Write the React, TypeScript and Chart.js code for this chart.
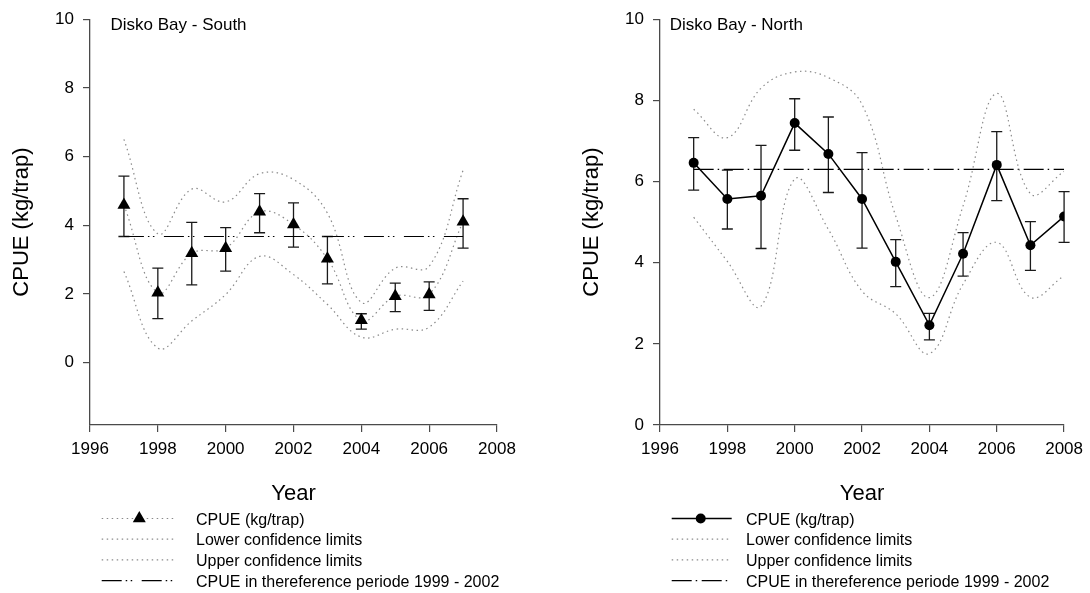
import React, { useEffect, useRef } from "react";
import { Chart, registerables } from "chart.js";

Chart.register(...registerables);

const FONT = "'Liberation Sans', Arial, Helvetica, sans-serif";
const AXIS = "#4a4a4a";
const CL_GREY = "#8a8a8a";

// Axis ticks
const yearTicks = [1996, 1998, 2000, 2002, 2004, 2006, 2008];
const cpueTicks = [0, 2, 4, 6, 8, 10];

// Disko Bay - South
const southYears = [1997, 1998, 1999, 2000, 2001, 2002, 2003, 2004, 2005, 2006, 2007];
const southCpue = [4.59, 2.03, 3.18, 3.33, 4.39, 4.02, 3.02, 1.23, 1.93, 1.98, 4.1];
const southErrHigh = [5.43, 2.75, 4.08, 3.93, 4.92, 4.65, 3.67, 1.42, 2.31, 2.35, 4.77];
const southErrLow = [3.67, 1.28, 2.26, 2.66, 3.78, 3.36, 2.29, 0.97, 1.48, 1.52, 3.33];
const southUpperCL = [6.5, 3.75, 5.05, 4.68, 5.5, 5.33, 4.35, 1.75, 2.75, 2.8, 5.6];
const southLowerCL = [2.65, 0.42, 1.21, 1.98, 3.09, 2.56, 1.69, 0.74, 0.97, 1.03, 2.37];
const southRef = 3.67;

// Disko Bay - North
const northYears = [1997, 1998, 1999, 2000, 2001, 2002, 2003, 2004, 2005, 2006, 2007, 2008];
const northCpue = [6.46, 5.57, 5.65, 7.44, 6.68, 5.57, 4.02, 2.46, 4.22, 6.41, 4.43, 5.14];
const northErrHigh = [7.08, 6.28, 6.89, 8.04, 7.59, 6.71, 4.57, 2.75, 4.74, 7.23, 5.01, 5.75];
const northErrLow = [5.79, 4.83, 4.35, 6.77, 5.73, 4.36, 3.41, 2.1, 3.67, 5.53, 3.81, 4.5];
const northUpperCL = [7.78, 7.08, 8.3, 8.7, 8.56, 7.9, 5.15, 3.14, 5.4, 8.17, 5.7, 6.25];
const northLowerCL = [5.12, 4.03, 2.93, 6.06, 4.82, 3.3, 2.74, 1.76, 3.47, 4.5, 3.15, 3.68];
const northRef = 6.3;

const legendLabels = [
  "CPUE (kg/trap)",
  "Lower confidence limits",
  "Upper confidence limits",
  "CPUE in thereference periode 1999 - 2002",
];

const DOTTED = [1.5, 3.5];
const SOUTH_REF_DASH = [20, 4, 1.5, 3.5, 1.5, 9.5];
const NORTH_REF_DASH = [20, 4, 1.5, 4.5];

type PanelSpec = {
  title: string;
  titleX: number;
  years: number[];
  cpue: number[];
  errHigh: number[];
  errLow: number[];
  upper: number[];
  lower: number[];
  ref: number;
  refFrom: number;
  refTo: number;
  refDash: number[];
  yMin: number;
  marker: "triangle" | "circle";
  markerRadius: number;
  cpueSolid: boolean;
  yAxisWidth: number;
  padRight: number;
  legendX0: number;
  legendX1: number;
  legendMarkerX: number;
  legendTextX: number;
};

const pts = (xs: number[], ys: number[]) => xs.map((x, i) => ({ x, y: ys[i] }));

function drawMarker(ctx: CanvasRenderingContext2D, kind: string, x: number, y: number, r: number) {
  ctx.save();
  ctx.fillStyle = "#000";
  ctx.beginPath();
  if (kind === "circle") {
    ctx.arc(x, y, r, 0, Math.PI * 2);
  } else {
    const h = r * 1.5;
    const w = r * Math.sqrt(3);
    ctx.moveTo(x, y - r);
    ctx.lineTo(x + w / 2, y - r + h);
    ctx.lineTo(x - w / 2, y - r + h);
    ctx.closePath();
  }
  ctx.fill();
  ctx.restore();
}

function makeErrorBars(p: PanelSpec) {
  return {
    id: "errorBars",
    beforeDatasetsDraw(chart: any) {
      const { ctx, scales } = chart;
      const xs = scales.x;
      const ys = scales.y;
      const cap = 5.5;
      ctx.save();
      ctx.strokeStyle = "#1a1a1a";
      ctx.lineWidth = 1.3;
      p.years.forEach((yr, i) => {
        const px = xs.getPixelForValue(yr);
        const top = ys.getPixelForValue(p.errHigh[i]);
        const bot = ys.getPixelForValue(p.errLow[i]);
        ctx.beginPath();
        ctx.moveTo(px, top);
        ctx.lineTo(px, bot);
        ctx.moveTo(px - cap, top);
        ctx.lineTo(px + cap, top);
        ctx.moveTo(px - cap, bot);
        ctx.lineTo(px + cap, bot);
        ctx.stroke();
      });
      ctx.restore();
    },
  };
}

function makeDecor(p: PanelSpec) {
  return {
    id: "decor",
    afterDraw(chart: any) {
      const { ctx, chartArea } = chart;
      ctx.save();
      ctx.fillStyle = "#000";

      // panel title
      ctx.font = `17px ${FONT}`;
      ctx.textAlign = "left";
      ctx.textBaseline = "alphabetic";
      ctx.fillText(p.title, p.titleX, 29.5);

      // y axis title
      ctx.save();
      ctx.translate(chartArea.left - 62.5, (chartArea.top + chartArea.bottom) / 2);
      ctx.rotate(-Math.PI / 2);
      ctx.font = `22px ${FONT}`;
      ctx.textAlign = "center";
      ctx.fillText("CPUE (kg/trap)", 0, 0);
      ctx.restore();

      // x axis title
      ctx.font = `22px ${FONT}`;
      ctx.textAlign = "center";
      ctx.fillText("Year", (chartArea.left + chartArea.right) / 2, 500);

      // legend
      const baselines = [524.5, 545.2, 565.9, 586.6];
      ctx.font = `16px ${FONT}`;
      ctx.textAlign = "left";
      baselines.forEach((b, i) => {
        const ly = b - 6;
        ctx.save();
        ctx.beginPath();
        ctx.moveTo(p.legendX0, ly);
        ctx.lineTo(p.legendX1, ly);
        if (i === 0 && p.cpueSolid) {
          ctx.strokeStyle = "#000";
          ctx.lineWidth = 1.5;
          ctx.setLineDash([]);
        } else if (i === 3) {
          ctx.strokeStyle = "#000";
          ctx.lineWidth = 1.2;
          ctx.setLineDash(p.refDash);
        } else {
          ctx.strokeStyle = CL_GREY;
          ctx.lineWidth = 1.2;
          ctx.setLineDash(DOTTED);
        }
        ctx.stroke();
        ctx.restore();
        if (i === 0) drawMarker(ctx, p.marker, p.legendMarkerX, ly, p.markerRadius);
        ctx.fillStyle = "#000";
        ctx.fillText(legendLabels[i], p.legendTextX, b);
      });
      ctx.restore();
    },
  };
}

function buildConfig(p: PanelSpec): any {
  const tickFont = { family: FONT, size: 17 };
  return {
    type: "line",
    data: {
      datasets: [
        {
          data: pts(p.years, p.lower),
          borderColor: CL_GREY,
          borderWidth: 1.2,
          borderDash: DOTTED,
          pointRadius: 0,
          tension: 0.4,
          fill: false,
        },
        {
          data: pts(p.years, p.upper),
          borderColor: CL_GREY,
          borderWidth: 1.2,
          borderDash: DOTTED,
          pointRadius: 0,
          tension: 0.4,
          fill: false,
        },
        {
          data: [
            { x: p.refFrom, y: p.ref },
            { x: p.refTo, y: p.ref },
          ],
          borderColor: "#000",
          borderWidth: 1.2,
          borderDash: p.refDash,
          pointRadius: 0,
          fill: false,
        },
        {
          data: pts(p.years, p.cpue),
          borderColor: p.cpueSolid ? "#000" : CL_GREY,
          borderWidth: p.cpueSolid ? 1.5 : 1.2,
          borderDash: p.cpueSolid ? [] : DOTTED,
          tension: p.cpueSolid ? 0 : 0.4,
          pointStyle: p.marker,
          pointRadius: p.markerRadius,
          pointBackgroundColor: "#000",
          pointBorderColor: "#000",
          pointBorderWidth: 0,
          fill: false,
        },
      ],
    },
    options: {
      responsive: false,
      animation: false,
      events: [],
      layout: { padding: { left: 0, top: 16, right: p.padRight, bottom: 593 - 425 - 50 } },
      plugins: { legend: { display: false }, tooltip: { enabled: false }, title: { display: false } },
      scales: {
        x: {
          type: "linear",
          min: 1996,
          max: 2008,
          afterBuildTicks: (s: any) => {
            s.ticks = yearTicks.map((v) => ({ value: v }));
          },
          afterFit: (s: any) => {
            s.height = 50;
          },
          grid: { drawOnChartArea: false, drawTicks: true, tickLength: 7, color: AXIS, lineWidth: 1.2 },
          border: { display: true, color: AXIS, width: 1.3 },
          ticks: {
            color: "#000",
            font: tickFont,
            padding: 7,
            maxRotation: 0,
            autoSkip: false,
            callback: (v: any) => String(v),
          },
        },
        y: {
          type: "linear",
          min: p.yMin,
          max: 10,
          afterBuildTicks: (s: any) => {
            s.ticks = cpueTicks.map((v) => ({ value: v }));
          },
          afterFit: (s: any) => {
            s.width = p.yAxisWidth;
          },
          grid: { drawOnChartArea: false, drawTicks: true, tickLength: 7, color: AXIS, lineWidth: 1.2 },
          border: { display: true, color: AXIS, width: 1.3 },
          ticks: {
            color: "#000",
            font: tickFont,
            padding: 9,
            autoSkip: false,
            callback: (v: any) => String(v),
          },
        },
      },
    },
    plugins: [makeErrorBars(p), makeDecor(p)],
  };
}

const southPanel: PanelSpec = {
  title: "Disko Bay - South",
  titleX: 110.5,
  years: southYears,
  cpue: southCpue,
  errHigh: southErrHigh,
  errLow: southErrLow,
  upper: southUpperCL,
  lower: southLowerCL,
  ref: southRef,
  refFrom: 1997,
  refTo: 2007,
  refDash: SOUTH_REF_DASH,
  yMin: -1.82,
  marker: "triangle",
  markerRadius: 7.5,
  cpueSolid: false,
  yAxisWidth: 90,
  padRight: 48,
  legendX0: 101.7,
  legendX1: 176.7,
  legendMarkerX: 139.3,
  legendTextX: 196,
};

const northPanel: PanelSpec = {
  title: "Disko Bay - North",
  titleX: 124.7,
  years: northYears,
  cpue: northCpue,
  errHigh: northErrHigh,
  errLow: northErrLow,
  upper: northUpperCL,
  lower: northLowerCL,
  ref: northRef,
  refFrom: 1997,
  refTo: 2008,
  refDash: NORTH_REF_DASH,
  yMin: 0,
  marker: "circle",
  markerRadius: 5,
  cpueSolid: true,
  yAxisWidth: 115,
  padRight: 23,
  legendX0: 126.7,
  legendX1: 186.7,
  legendMarkerX: 155.7,
  legendTextX: 201,
};

function Panel({ spec, left }: { spec: PanelSpec; left: number }) {
  const ref = useRef<HTMLCanvasElement | null>(null);
  useEffect(() => {
    if (!ref.current) return;
    const chart = new Chart(ref.current, buildConfig(spec));
    return () => chart.destroy();
  }, [spec]);
  return (
    <canvas
      ref={ref}
      width={545}
      height={593}
      style={{ position: "absolute", left, top: 0, width: 545, height: 593 }}
    />
  );
}

export default function App() {
  return (
    <div
      style={{
        position: "absolute",
        left: 0,
        top: 0,
        width: 1090,
        height: 593,
        background: "#fff",
        overflow: "hidden",
      }}
    >
      <Panel spec={southPanel} left={0} />
      <Panel spec={northPanel} left={545} />
    </div>
  );
}
